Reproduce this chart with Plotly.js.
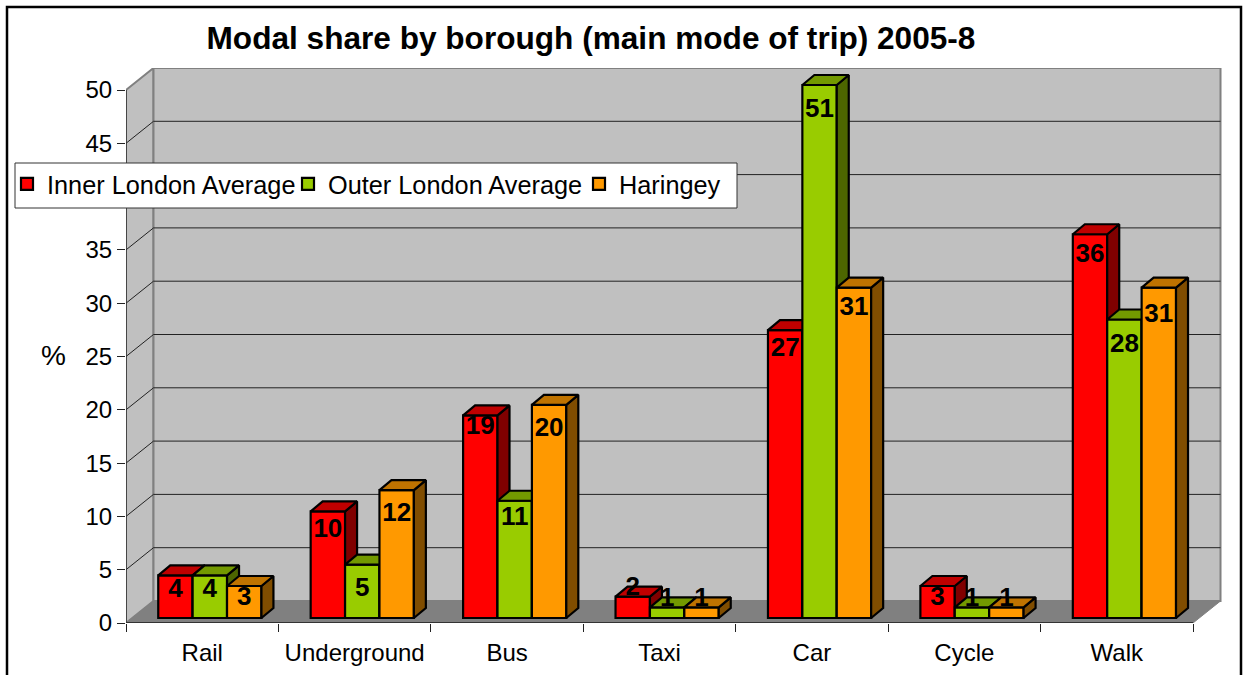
<!DOCTYPE html>
<html>
<head>
<meta charset="utf-8">
<script src="https://cdn.plot.ly/plotly-3.0.1.min.js"></script>
<style>html,body{margin:0;padding:0;background:#fff;overflow:hidden}#chart{width:1248px;height:675px}</style>
</head>
<body>
<div id="chart"></div>
<script>
// ---- data ----
const categories = ['Rail','Underground','Bus','Taxi','Car','Cycle','Walk'];
const innerLondon = [4,10,19,2,27,3,36];
const outerLondon = [4,5,11,1,51,1,28];
const haringey = [3,12,20,1,31,1,31];
const seriesNames = ['Inner London Average','Outer London Average','Haringey'];
const yTicks = [0,5,10,15,20,25,30,35,40,45,50];
const yTickLabels = ['0','5','10','15','20','25','30','35','','45','50']; // 40 sits behind the legend box
const titleText = 'Modal share by borough (main mode of trip) 2005-8';

// ---- styling ----
const FONT = '"Liberation Sans", Arial, sans-serif';
const W = 1248, H = 675;
const L = 126, R = 1222, T = 68, B = 623;      // plot box in page pixels
const pxPerCat = 152.43, pxPerUnit = 10.66;
const yMax = 50;
const xRange = [0, (R - L) / pxPerCat], yRange = [0, (B - T) / pxPerUnit];
const wallDX = 27.5 / pxPerCat, wallDY = 22 / pxPerUnit;
const barW = 34.4 / pxPerCat, barDX = 12 / pxPerCat, barDY = 10 / pxPerUnit;
const barBase = 5 / pxPerUnit, clusterMid = 0.55;
const fronts = ['#ff0000','#99cc00','#ff9900'];
const tops = ['#bf0000','#739900','#bf7300'];
const sides = ['#800000','#4d6600','#804d00'];
const legendStride = [236, 246, 100];
// vertical nudge of each value label below its bar top, px (reads label placement)
const labelDrop = [
  [15,19,12,-8,19,12,21],
  [15,25,18,-8,25,-8,26],
  [12,24,25,-8,21,-8,28]
];
const pageX = p => p / W;
const pageY = p => 1 - p / H;

const allSeries = [innerLondon, outerLondon, haringey];
const traces = [];
allSeries.forEach((vals, s) => {
  const suf = s === 0 ? '' : String(s + 1);
  const xa = 'x' + suf, ya = 'y' + suf;
  const centers = vals.map((_, i) => i + clusterMid + (s - 1) * barW);
  const heights = vals.map(v => Math.min(v, yMax));
  const sx = [], sy = [], tx = [], ty = [];
  heights.forEach((h, i) => {
    const xl = centers[i] - barW / 2, xr = centers[i] + barW / 2, yt = barBase + h;
    sx.push(xr, xr + barDX, xr + barDX, xr, xr, null);
    sy.push(barBase, barBase + barDY, yt + barDY, yt, barBase, null);
    tx.push(xl, xr, xr + barDX, xl + barDX, xl, null);
    ty.push(yt, yt, yt + barDY, yt + barDY, yt, null);
  });
  traces.push({type:'bar', name:seriesNames[s], x:centers, y:heights, base:barBase, width:barW,
    xaxis:xa, yaxis:ya, marker:{color:fronts[s], line:{color:'#000', width:2.2}}, hoverinfo:'skip', legendwidth:legendStride[s]});
  traces.push({type:'scatter', mode:'lines', x:sx, y:sy, fill:'toself', fillcolor:sides[s],
    line:{color:'#000', width:2.2}, xaxis:xa, yaxis:ya, showlegend:false, hoverinfo:'skip'});
  traces.push({type:'scatter', mode:'lines', x:tx, y:ty, fill:'toself', fillcolor:tops[s],
    line:{color:'#000', width:2.2}, xaxis:xa, yaxis:ya, showlegend:false, hoverinfo:'skip'});
});
// value labels, topmost
const lx = [], ly = [], lt = [];
allSeries.forEach((vals, s) => vals.forEach((v, i) => {
  lx.push(i + clusterMid + (s - 1) * barW);
  ly.push(barBase + Math.min(v, yMax) - labelDrop[s][i] / pxPerUnit);
  lt.push(String(v));
}));
traces.push({type:'scatter', mode:'text', x:lx, y:ly, text:lt, textposition:'middle center',
  textfont:{family:FONT, size:26, color:'#000', weight:700}, xaxis:'x3', yaxis:'y3',
  showlegend:false, hoverinfo:'skip', cliponaxis:false});

// ---- chart frame: walls and floor ----
const poly = pts => 'M' + pts.map(p => p[0] + ',' + p[1]).join('L') + 'Z';
const xEnd = categories.length;
const shapes = [];
shapes.push({type:'path', layer:'below', xref:'x', yref:'y',
  path:poly([[0,0],[wallDX,wallDY],[wallDX,yMax+wallDY],[0,yMax]]), fillcolor:'#c0c0c0', line:{color:'#808080',width:2}});
shapes.push({type:'path', layer:'below', xref:'x', yref:'y',
  path:poly([[wallDX,wallDY],[xEnd+wallDX,wallDY],[xEnd+wallDX,yMax+wallDY],[wallDX,yMax+wallDY]]), fillcolor:'#c0c0c0', line:{color:'#808080',width:2}});
shapes.push({type:'path', layer:'below', xref:'x', yref:'y',
  path:poly([[0,0],[xEnd,0],[xEnd+wallDX,wallDY],[wallDX,wallDY]]), fillcolor:'#808080', line:{color:'#808080',width:1}});
yTicks.filter(v => v > 0 && v < yMax).forEach(v => {
  shapes.push({type:'line', layer:'below', xref:'x', yref:'y', x0:wallDX, x1:xEnd+wallDX, y0:v+wallDY, y1:v+wallDY, line:{color:'#222',width:1}});
  shapes.push({type:'line', layer:'below', xref:'x', yref:'y', x0:0, x1:wallDX, y0:v, y1:v+wallDY, line:{color:'#222',width:1}});
});
// axis lines on the front plane
shapes.push({type:'line', layer:'below', xref:'x', yref:'y', x0:0, x1:0, y0:0, y1:yMax, line:{color:'#333',width:1.5}});
shapes.push({type:'line', layer:'above', xref:'x', yref:'y', x0:0, x1:xEnd, y0:0, y1:0, line:{color:'#333',width:2}});
// outer frame of the picture
shapes.push({type:'rect', layer:'below', xref:'paper', yref:'paper',
  x0:pageX(7), x1:pageX(1241), y0:pageY(700), y1:pageY(7), fillcolor:'rgba(0,0,0,0)', line:{color:'#000',width:2.5}});
// legend box
shapes.push({type:'rect', layer:'above', xref:'paper', yref:'paper',
  x0:pageX(15), x1:pageX(737), y0:pageY(208), y1:pageY(163), fillcolor:'#fff', line:{color:'#333',width:1}});

const xDomain = [L / W, R / W], yDomain = [1 - B / H, 1 - T / H];
const overlayAxis = (a, dom, rng) => ({overlaying:a, visible:false, fixedrange:true, domain:dom, range:rng});
const layout = {
  width:W, height:H, autosize:false, paper_bgcolor:'#fff', plot_bgcolor:'rgba(0,0,0,0)',
  margin:{l:0, r:0, t:0, b:0, pad:0},
  font:{family:FONT, color:'#000'},
  title:{text:'<b>'+titleText+'</b>', font:{family:FONT, size:31.6, color:'#000'}, xref:'container', yref:'container',
    x:591/W, xanchor:'center', y:1-38/H, yanchor:'middle', pad:{t:0,b:0,l:0,r:0}},
  barmode:'overlay',
  showlegend:true,
  legend:{orientation:'h', x:pageX(7), xanchor:'left', y:pageY(161), yanchor:'top', entrywidthmode:'pixels',
    bgcolor:'rgba(0,0,0,0)', borderwidth:0, font:{family:FONT, size:25.3, color:'#000'}, traceorder:'normal', itemclick:false, itemdoubleclick:false},
  xaxis:{domain:xDomain, range:xRange, showgrid:false, zeroline:false, showline:false, fixedrange:true,
    tickmode:'array', tickvals:categories.map((_, i) => i + 0.5), ticktext:categories, ticks:'', ticklen:0,
    ticklabelstandoff:13, tickfont:{family:FONT, size:24, color:'#000'},
    minor:{tickmode:'array', tickvals:categories.map((_, i) => i).concat([xEnd]), ticks:'outside', ticklen:8, tickwidth:1, tickcolor:'#222', showgrid:false}},
  yaxis:{domain:yDomain, range:yRange, showgrid:false, zeroline:false, showline:false, fixedrange:true,
    tickmode:'array', tickvals:yTicks, ticktext:yTickLabels, ticks:'outside', ticklen:8, tickwidth:1, tickcolor:'#222',
    tickfont:{family:FONT, size:24, color:'#000'}},
  xaxis2:overlayAxis('x', xDomain, xRange), yaxis2:Object.assign(overlayAxis('y', yDomain, yRange), {anchor:'x2'}),
  xaxis3:overlayAxis('x', xDomain, xRange), yaxis3:Object.assign(overlayAxis('y', yDomain, yRange), {anchor:'x3'}),
  shapes:shapes,
  annotations:[{text:'%', xref:'paper', yref:'paper', x:pageX(53), y:pageY(355), xanchor:'center', yanchor:'middle', showarrow:false, font:{family:FONT, size:28, color:'#000'}}]
};
Plotly.newPlot('chart', traces, layout, {displayModeBar:false, staticPlot:true});
</script>
</body>
</html>
